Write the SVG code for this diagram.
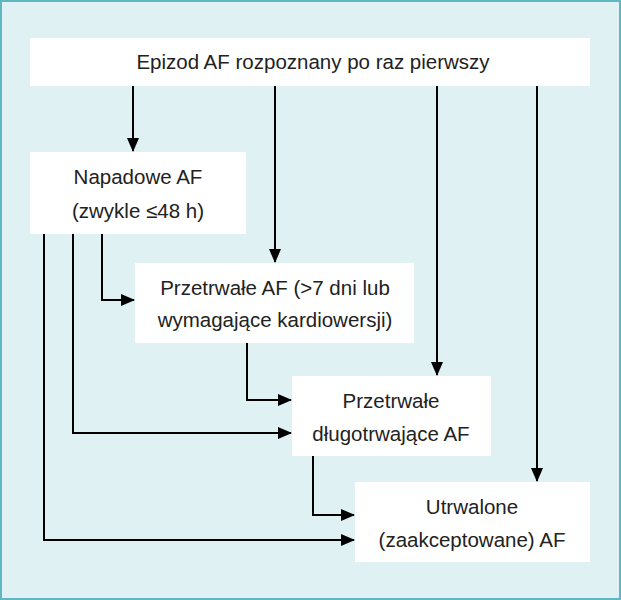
<svg xmlns="http://www.w3.org/2000/svg" width="621" height="600" viewBox="0 0 621 600">
<defs>
<style>
.box{fill:#fff}
.t{font-family:"Liberation Sans",Arial,sans-serif;font-size:20.5px;fill:#222;text-anchor:middle}
.c{fill:none;stroke:#000;stroke-width:2}
</style>
<marker id="a" markerWidth="14" markerHeight="14" refX="13" refY="7" orient="auto" markerUnits="userSpaceOnUse" viewBox="0 0 14 14"><path d="M0,1L14,7L0,13z" fill="#000"/></marker>
</defs>
<rect x="1" y="1" width="619" height="598" fill="#e0f1f4" stroke="#5fb7c4" stroke-width="2"/>
<g id="connectors" class="c" marker-end="url(#a)">
<path d="M133,86V151"/>
<path d="M275,86V262"/>
<path d="M437,86V375"/>
<path d="M537,86V481"/>
<path d="M102,234V300H134"/>
<path d="M73,234V433H291"/>
<path d="M44,234V540H354"/>
<path d="M247,343V400H291"/>
<path d="M313,456V515H354"/>
</g>
<g id="n1"><rect class="box" x="30" y="38" width="560" height="48"/><text class="t" x="313" y="69">Epizod AF rozpoznany po raz pierwszy</text></g>
<g id="n2"><rect class="box" x="30" y="152" width="216" height="82"/><text class="t" x="138" y="184">Napadowe AF</text><text class="t" x="138" y="218">(zwykle ≤48 h)</text></g>
<g id="n3"><rect class="box" x="135" y="263" width="279" height="80"/><text class="t" x="275" y="295">Przetrwałe AF (&gt;7 dni lub</text><text class="t" x="275" y="327">wymagające kardiowersji)</text></g>
<g id="n4"><rect class="box" x="292" y="376" width="199" height="80"/><text class="t" x="391" y="408">Przetrwałe</text><text class="t" x="391" y="441">długotrwające AF</text></g>
<g id="n5"><rect class="box" x="355" y="482" width="235" height="80"/><text class="t" x="472" y="514">Utrwalone</text><text class="t" x="472" y="547">(zaakceptowane) AF</text></g>
</svg>
